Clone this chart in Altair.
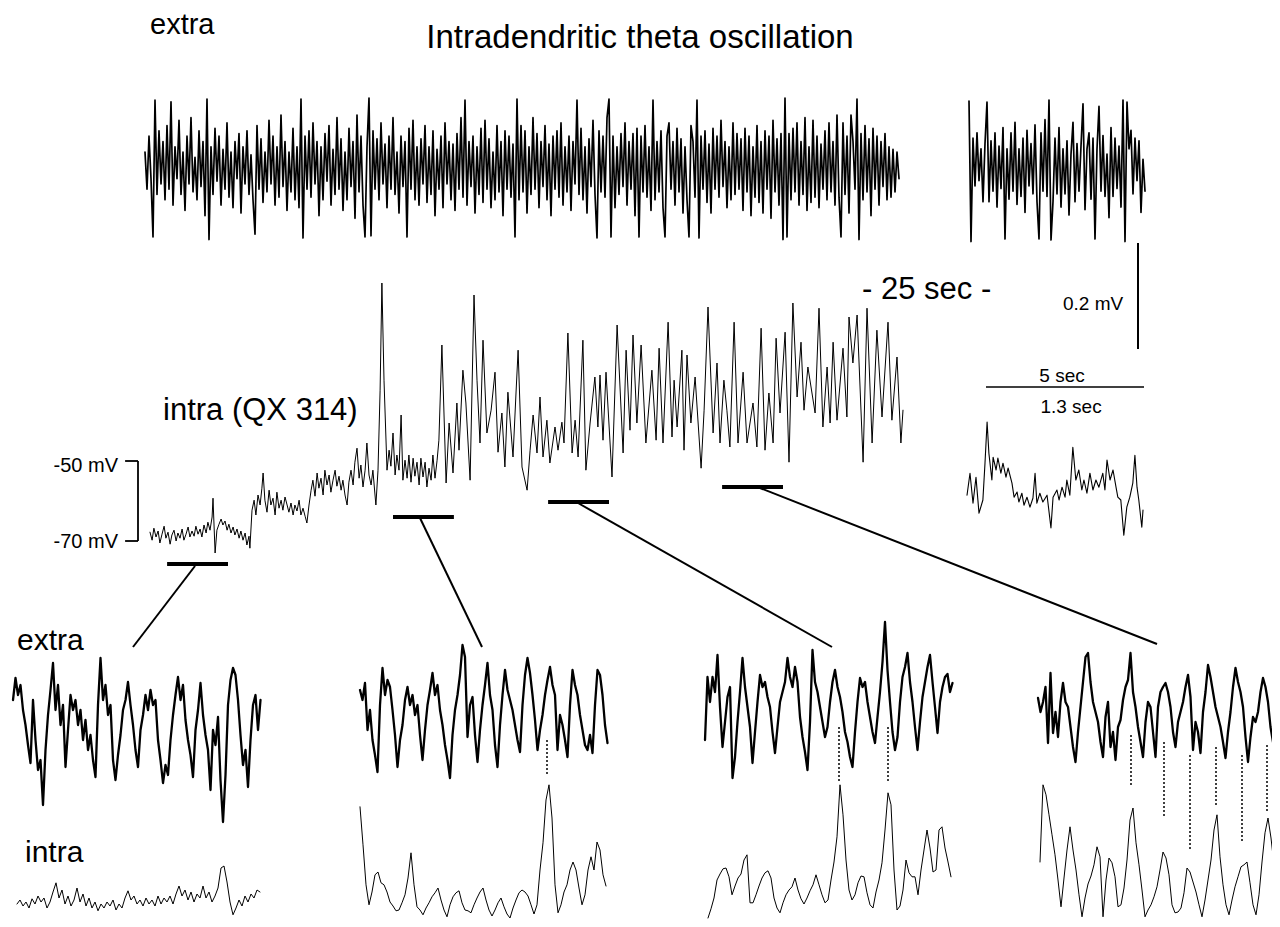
import altair as alt
import pandas as pd

# ---------------------------------------------------------------- data
# Top extracellular record (uV), evenly sampled across the 25-s sweep
extra_top = [
    30, -40, 60, -20, -130, 128, -50, 70, -30, 50, -60, 80, -40, 125, -70, 40, -20, 90, -50, 30,
    -80, 60, -30, 95, -45, 20, -60, 70, -35, 50, -90, 130, -135, 40, -50, 75, -25, 60, -70, 35,
    -40, 85, -55, 30, -75, 50, -20, 65, -85, 40, -30, 70, -50, 25, -60, -125, 80, -40, 55, -65,
    30, -45, 90, -30, 60, -70, 40, -55, 100, -35, 50, -80, 30, -45, 75, -60, 40, -75, 130, -132,
    60, -40, 70, -55, 85, -30, 50, -90, 40, -60, 65, -25, 80, -70, 35, -50, 95, -40, 55, -80,
    30, -60, 75, -35, 50, -95, 100, -45, 60, -70, -130, 40, 132, -128, 70, -40, 55, -60, 85, -30,
    45, -75, 60, -40, 95, -50, 30, -85, 60, -35, 50, -130, 75, -40, 90, -60, 40, -70, 55, -30,
    80, -65, 40, -50, 70, -90, 35, -40, 60, -75, 85, -30, 50, -60, 45, -80, 65, -40, 95, -55,
    128, -70, 50, -35, 60, -85, 40, -50, 75, -65, 90, -40, 55, -75, 30, -60, 80, -45, 50, -90,
    70, -40, 60, -55, 45, -130, 130, -60, 80, -45, 70, -85, 40, -50, 95, -40, 65, -75, 50, -35,
    80, -60, 45, -90, 60, -40, 70, -55, 85, -70, 40, -45, 60, -80, 50, -30, 128, -50, 75, -60,
    40, -85, 55, -35, 90, -50, -132, 70, -45, 60, -55, 95, 130, -130, 60, -75, 40, -50, 65, -35,
    85, -70, 50, -40, 65, -90, 75, -130, 60, -45, 80, -55, 40, -80, 128, -60, 50, -45, 70, -75,
    -130, 60, 85, -40, 50, -70, 75, -45, 55, -85, 40, -60, -130, 80, 50, -55, 128, -132, 60, -40,
    70, -65, 45, -85, 75, -40, 60, -55, 90, -35, 50, -75, 40, -60, 85, -50, 65, -40, 55, -80,
    75, -45, 60, -90, 40, -55, 80, -65, 50, -85, 70, -40, 60, -95, 90, -45, 55, -70, 65, -135,
    132, -130, 65, -60, 75, -45, 85, -70, 50, -50, 95, -80, 40, -65, 90, -55, 60, -75, 45, -40,
    70, -60, 85, -45, 50, -70, 100, -55, -130, 85, -50, 60, -85, 100, 50, -40, 130, -135, 65, -60,
    80, -45, 55, -90, 75, -40, 60, -70, 50, -35, 65, -60, 40, -55, 35, -45, 30, -20,
]

# Right-hand extracellular sample (uV)
extra_right = [
    130, -135, 60, -30, 70, -20, 40, -60, 50, 128, -60, 55, -40, 70, -70, 45, -35, 80, -130, 40,
    -55, 70, -40, 90, -65, 40, -50, 60, -80, 75, -30, 50, -45, 85, -60, -130, 70, -40, 95, -50,
    132, -132, -60, 60, -45, 80, -70, 40, -45, 55, -85, 30, 90, -60, 50, -40, 45, 125, -75, 40,
    70, -55, 60, -130, 40, 120, -40, 65, -50, 30, -90, 80, -50, 60, -35, 45, -70, 132, -135, 128,
    40, 75, -45, 60, -20, 55, -80, 20, -40,
]

# Intradendritic record: (time s, membrane potential mV)
intra_main = [
    (0.00, -67.8), (0.07, -69.8), (0.13, -66.8), (0.20, -69.0), (0.27, -67.5),
    (0.33, -70.5), (0.40, -68.3), (0.47, -66.3), (0.53, -69.3), (0.60, -67.8),
    (0.67, -70.8), (0.73, -68.5), (0.80, -67.3), (0.87, -70.0), (0.93, -68.0),
    (1.00, -69.3), (1.07, -67.0), (1.13, -69.8), (1.20, -68.3), (1.27, -66.5),
    (1.33, -69.0), (1.40, -67.5), (1.47, -68.8), (1.53, -66.3), (1.60, -68.3),
    (1.67, -67.0), (1.73, -69.0), (1.80, -66.0), (1.87, -68.0), (1.93, -65.3),
    (2.00, -67.3), (2.07, -64.0), (2.10, -59.3), (2.17, -73.0), (2.23, -67.3),
    (2.30, -65.8), (2.37, -64.5), (2.43, -66.0), (2.50, -65.0), (2.57, -67.3),
    (2.63, -65.8), (2.70, -68.0), (2.77, -66.5), (2.83, -68.5), (2.90, -67.0),
    (2.97, -69.3), (3.03, -67.5), (3.10, -69.8), (3.17, -68.0), (3.23, -71.0),
    (3.30, -68.8), (3.33, -71.8),
    (3.40, -62.3), (3.47, -59.8), (3.53, -63.5), (3.60, -58.5), (3.67, -61.0),
    (3.73, -56.8), (3.77, -53.0), (3.83, -59.8), (3.90, -62.8), (3.97, -57.3),
    (4.03, -61.0), (4.10, -59.3), (4.17, -63.5), (4.23, -57.8), (4.30, -61.8),
    (4.37, -59.8), (4.43, -62.3), (4.50, -59.0), (4.57, -61.0), (4.63, -62.8),
    (4.70, -60.5), (4.77, -63.5), (4.83, -61.0), (4.90, -62.5), (4.97, -59.8),
    (5.03, -63.5), (5.10, -61.8), (5.17, -63.8), (5.23, -65.5), (5.30, -61.0),
    (5.37, -57.3), (5.43, -54.8), (5.50, -58.8), (5.57, -53.0), (5.63, -56.8),
    (5.70, -54.3), (5.77, -58.5), (5.83, -52.3), (5.90, -56.0), (5.97, -53.5),
    (6.03, -57.8), (6.10, -54.8), (6.17, -52.3), (6.23, -56.3), (6.30, -53.8),
    (6.37, -57.3), (6.43, -54.8), (6.50, -58.5), (6.57, -61.0), (6.63, -55.3),
    (6.70, -52.3), (6.77, -56.0), (6.83, -50.3), (6.90, -46.8), (6.97, -54.3),
    (7.03, -51.0), (7.10, -56.5), (7.17, -52.3), (7.23, -45.5), (7.30, -53.5),
    (7.37, -56.0), (7.43, -52.3), (7.50, -58.5), (7.53, -61.0), (7.60, -52.3),
    (7.67, -32.3), (7.73, -5.5), (7.80, -29.8), (7.90, -52.3), (7.97, -47.3),
    (8.03, -51.3), (8.10, -43.0), (8.17, -53.5), (8.23, -48.5), (8.30, -52.3),
    (8.37, -38.5), (8.43, -54.8), (8.50, -49.8), (8.57, -54.3), (8.63, -48.5),
    (8.70, -55.3), (8.77, -49.3), (8.83, -53.8), (8.90, -50.3), (8.97, -56.0),
    (9.03, -49.3), (9.10, -54.0), (9.17, -50.3), (9.23, -56.5), (9.30, -51.8),
    (9.37, -54.8), (9.43, -48.5), (9.50, -54.3), (9.57, -49.8), (9.63, -44.8),
    (9.73, -21.0), (9.87, -55.5), (9.97, -40.5), (10.10, -53.0), (10.23, -35.5),
    (10.30, -47.3), (10.43, -27.3), (10.53, -35.5), (10.67, -54.8), (10.80, -8.5),
    (10.90, -29.8), (11.00, -45.5), (11.10, -19.8), (11.23, -43.0), (11.37, -37.3),
    (11.50, -27.8), (11.60, -47.8), (11.73, -38.0), (11.83, -51.5), (11.93, -32.8),
    (12.10, -49.0), (12.20, -33.0), (12.27, -22.3), (12.40, -51.5), (12.57, -57.3),
    (12.67, -47.3), (12.77, -38.5), (12.90, -48.0), (13.00, -34.0), (13.10, -49.0),
    (13.23, -39.8), (13.33, -50.5), (13.50, -41.5), (13.60, -47.3), (13.73, -40.3),
    (13.80, -45.5), (13.93, -18.0), (14.07, -48.0), (14.17, -39.8), (14.27, -49.0),
    (14.43, -19.8), (14.53, -52.3), (14.67, -40.5), (14.83, -29.0), (14.93, -41.5),
    (15.00, -28.5), (15.10, -44.8), (15.20, -27.8), (15.40, -54.0), (15.57, -16.0),
    (15.77, -48.0), (15.87, -22.3), (16.00, -42.3), (16.10, -18.5), (16.23, -40.5),
    (16.37, -21.0), (16.53, -45.5), (16.73, -27.3), (16.87, -44.8), (16.97, -21.8),
    (17.10, -45.5), (17.27, -15.3), (17.40, -44.0), (17.47, -29.8), (17.57, -41.5),
    (17.73, -22.3), (17.80, -47.3), (17.90, -23.5), (18.03, -40.5), (18.17, -29.0),
    (18.37, -51.8), (18.47, -37.3), (18.60, -11.5), (18.77, -43.0), (18.90, -25.5),
    (19.00, -45.5), (19.13, -29.8), (19.23, -37.3), (19.33, -46.5), (19.47, -15.3),
    (19.60, -45.5), (19.77, -27.8), (19.90, -45.5), (20.10, -35.5), (20.23, -46.5),
    (20.37, -16.8), (20.50, -47.3), (20.63, -33.0), (20.77, -45.5), (20.87, -19.3),
    (21.00, -38.0), (21.17, -17.8), (21.30, -50.3), (21.43, -10.5), (21.57, -34.0),
    (21.70, -20.3), (21.80, -37.3), (21.93, -26.5), (22.17, -38.0), (22.30, -11.8),
    (22.43, -41.5), (22.57, -26.5), (22.67, -40.5), (22.77, -20.3), (22.90, -39.8),
    (23.10, -21.8), (23.23, -39.0), (23.30, -14.0), (23.43, -25.5), (23.57, -13.5),
    (23.77, -50.3), (23.90, -11.8), (24.07, -45.5), (24.23, -17.3), (24.40, -39.0),
    (24.60, -15.3), (24.73, -39.8), (24.90, -24.0), (25.03, -45.5), (25.10, -37.3),
]

# Right-hand intracellular sample: (time s, mV)
intra_right = [
    (0.00, -58.8), (0.10, -53.3), (0.20, -60.8), (0.30, -54.3), (0.40, -63.3),
    (0.53, -60.0), (0.60, -50.8), (0.67, -40.5), (0.73, -48.3), (0.83, -55.0),
    (0.87, -49.3), (0.97, -52.5), (1.03, -49.5), (1.13, -53.3), (1.20, -50.8),
    (1.30, -54.3), (1.37, -52.0), (1.50, -55.8), (1.57, -59.3), (1.67, -58.0),
    (1.73, -60.5), (1.83, -58.3), (1.90, -61.3), (2.00, -59.3), (2.10, -61.8),
    (2.20, -59.5), (2.27, -53.3), (2.33, -60.8), (2.43, -58.3), (2.53, -60.5),
    (2.67, -58.8), (2.80, -67.0), (2.87, -59.3), (3.00, -57.5), (3.07, -60.0),
    (3.17, -56.8), (3.27, -59.3), (3.33, -55.0), (3.43, -58.8), (3.53, -46.8),
    (3.63, -55.0), (3.73, -52.5), (3.83, -57.5), (3.90, -55.0), (4.00, -58.3),
    (4.10, -53.3), (4.20, -57.5), (4.30, -55.0), (4.40, -56.8), (4.53, -53.3),
    (4.60, -57.5), (4.67, -50.0), (4.77, -55.0), (4.87, -52.5), (4.97, -56.8),
    (5.03, -59.3), (5.13, -60.0), (5.23, -68.8), (5.33, -61.8), (5.43, -59.3),
    (5.53, -55.8), (5.60, -48.8), (5.67, -56.8), (5.73, -60.0), (5.83, -66.8),
    (5.87, -62.5),
]

# Expanded 2-s windows: extracellular (uV) and intradendritic (mV above trough)
win_extra_1 = [
    40, 84, 50, 70, 20, -10, -50, -86, 40, -40,
    -100, -80, -170, -60, 10, 60, 114, 20, 70, -10,
    30, -94, -20, 50, 20, 40, -10, 20, -40, 0,
    -60, -30, -80, -114, 30, 124, 40, 70, 10, 30,
    -80, -120, -70, -30, 20, 40, 76, 30, -10, -60,
    -94, -20, 10, 50, 20, 60, 30, 40, -40, -80,
    -126, -90, -110, -40, 10, 50, 86, 40, 70, 0,
    -40, -70, -114, -20, 20, 74, 10, -30, -60, -140,
    -20, -50, 6, -120, -204, -110, 30, 80, 104, 90,
    40, -30, -90, -60, -134, -40, 30, 50, -20, 40,
]
win_intra_1 = [
    3.5, 4.5, 3.0, 4.0, 2.5, 4.8, 3.5, 5.5, 4.0, 5.0,
    2.5, 4.0, 6.5, 8.8, 5.0, 7.0, 3.5, 5.5, 3.0, 4.5,
    7.5, 4.0, 6.0, 3.0, 5.0, 2.5, 4.0, 1.8, 3.5, 2.5,
    4.0, 3.0, 4.5, 2.0, 3.5, 2.5, 5.0, 6.8, 4.5, 5.5,
    3.5, 4.5, 3.0, 5.0, 3.5, 4.5, 3.0, 5.5, 3.5, 5.0,
    4.0, 5.5, 3.5, 6.0, 8.0, 5.5, 7.0, 4.5, 6.5, 4.0,
    6.0, 5.0, 8.0, 5.0, 6.5, 4.0, 5.5, 7.5, 12.5, 13.0,
    9.0, 4.0, 0.8, 2.5, 4.5, 3.0, 5.5, 4.0, 6.0, 5.0,
    7.0, 6.5,
]
win_extra_2 = [
    50, 30, 64, -30, 10, -50, -80, -114, 20, 94,
    40, 70, 56, 10, -40, -104, -50, -20, 30, 56,
    20, 40, 0, 20, -40, -90, -30, 20, 50, 84,
    40, 60, 10, -20, -60, -90, -126, -40, 10, 40,
    80, 140, 116, -44, 20, 36, -40, -94, -30, 20,
    60, 104, 40, 10, -60, -104, -20, 40, 90, 50,
    30, 10, -20, -50, -74, 20, 80, 114, 84, 40,
    -10, -70, -30, 0, 40, 70, 96, 60, 40, -70,
    0, -20, -50, -84, 20, 90, 60, 40, 0, -30,
    -60, -70, -40, -76, 20, 90, 80, 40, -20, -56,
]
win_intra_2 = [
    27.8, 18.3, 8.3, 3.3, 6.5, 10.8, 11.5, 8.8, 8.3, 6.5,
    4.0, 3.0, 1.8, 2.0, 3.8, 5.8, 10.0, 16.3, 8.3, 2.8,
    2.0, 0.8, 2.5, 3.8, 5.3, 6.3, 7.5, 4.5, 2.0, 0.3,
    3.3, 5.3, 6.3, 6.8, 3.8, 2.0, 1.8, 1.3, 3.3, 5.0,
    6.5, 7.5, 4.5, 2.0, 0.5, 2.0, 3.8, 5.0, 2.8, 1.0,
    0.0, 2.5, 4.5, 6.3, 7.0, 6.5, 5.5, 3.3, 1.0, 3.3,
    12.0, 18.8, 29.5, 33.3, 25.0, 8.3, 1.3, 3.3, 6.5, 8.3,
    12.0, 14.0, 12.0, 7.5, 3.3, 5.8, 12.0, 15.3, 12.0, 19.0,
    17.0, 10.8, 8.0,
]
win_extra_3 = [
    -56, 70, 20, 70, 40, 114, 10, -70, -20, 30,
    50, -132, -90, -20, 40, 108, 50, 10, -30, -102,
    -40, 20, 74, 50, 60, 30, 10, -40, -82, -30,
    20, 40, 60, 108, 70, 50, 90, 60, -10, -50,
    -80, -116, -20, 124, 60, 40, 10, -20, -50, -30,
    20, 60, 84, 50, 30, 0, -40, -60, -90, -110,
    -40, 20, 68, 50, 60, 20, -10, -40, -62, -10,
    40, 100, 180, 84, 20, -40, -76, -50, 20, 70,
    90, 118, 60, 20, -30, -76, -20, 30, 60, 90,
    114, 60, 10, -42, 20, 50, 70, 76, 40, 58,
]
win_intra_3 = [
    0.0, 2.3, 5.0, 9.5, 11.0, 12.3, 12.5, 10.3, 5.8, 8.0,
    10.0, 11.0, 14.5, 15.8, 3.8, 3.8, 5.8, 8.0, 10.0, 11.3,
    11.8, 10.0, 5.0, 2.5, 1.3, 3.8, 5.8, 7.0, 7.8, 10.0,
    7.0, 4.8, 3.5, 5.0, 6.8, 8.3, 10.8, 8.3, 5.8, 3.8,
    4.5, 9.5, 14.0, 20.3, 33.3, 25.8, 14.5, 7.0, 4.5, 5.8,
    8.8, 10.5, 10.3, 6.3, 3.3, 2.5, 6.5, 9.5, 13.8, 22.0,
    31.3, 28.3, 12.0, 2.0, 3.0, 7.0, 14.5, 11.3, 10.3, 10.3,
    5.8, 12.0, 17.0, 22.0, 17.5, 11.5, 12.0, 22.0, 22.8, 17.5,
    14.0, 10.3,
]
win_extra_4 = [
    28, 0, 20, 50, -62, 78, -42, 0, -50, 20,
    58, 20, 10, -30, -70, -100, -40, 10, 60, 110,
    118, 60, 20, 0, -20, -60, -90, -10, 20, -70,
    -40, -96, -30, -16, 24, 50, 64, 118, 40, 10,
    -30, -60, -90, -20, 20, 10, -40, -90, 10, 40,
    50, 58, 40, 10, -40, -70, -20, 0, 20, 50,
    74, 30, -76, -20, -40, -82, 0, 40, 94, 70,
    40, 10, -10, -30, -60, -92, -40, 0, 50, 88,
    60, 40, 10, -50, -100, -50, -10, -20, 0, 40,
    68, 50, 20, -30, -60, -82, 38,
]
win_intra_4 = [
    14.0, 33.3, 30.8, 25.8, 20.8, 15.8, 9.5, 2.8, 10.0, 17.0,
    22.8, 17.0, 12.0, 5.8, 0.3, 5.0, 8.5, 10.5, 13.3, 17.8,
    15.3, 0.3, 9.5, 15.0, 13.8, 10.3, 2.8, 3.3, 7.5, 14.5,
    24.5, 27.5, 18.8, 13.3, 7.0, 0.3, 2.0, 3.3, 5.3, 7.8,
    12.0, 16.5, 15.0, 10.8, 3.3, 1.3, 1.5, 2.5, 6.3, 12.5,
    11.5, 9.0, 6.5, 3.3, 0.3, 4.5, 9.5, 14.5, 22.0, 25.8,
    15.3, 8.3, 3.3, 0.8, 4.5, 7.8, 10.3, 12.8, 13.3, 14.0,
    8.8, 3.3, 0.8, 5.8, 14.0, 21.3, 25.0, 20.0, 13.3, 7.5,
]

# Expanded windows on the intradendritic record (start s, level of marker mV)
win_start = [0.57, 8.10, 13.27, 19.07]
win_len = 2.03
win_level = [-75.75, -64.0, -60.25, -56.5]
mv_bracket = [-70, -50]

# ---------------------------------------------------------------- layout (page pixels)
M = 8
W, H = 1264, 911
FONT = "Liberation Sans"


def px(v):
    return v - M


def sc(domain, a, b):
    return alt.Scale(domain=list(domain), range=[px(a), px(b)], nice=False, zero=False)


def sampled(values):
    return pd.DataFrame({"t": list(range(len(values))), "v": values})


def paired(pairs):
    return pd.DataFrame(pairs, columns=["t", "v"])


def trace(df, xs, ys, sw):
    return alt.Chart(df).mark_line(
        color="black", strokeWidth=sw, strokeJoin="round", strokeCap="round"
    ).encode(
        x=alt.X("t:Q", scale=xs, axis=None),
        y=alt.Y("v:Q", scale=ys, axis=None),
    )


def extra_y(center, gain):
    return sc([-200, 200], center + 200 * gain, center - 200 * gain)


def label(text, x, y, size, align="left"):
    return alt.Chart(pd.DataFrame({"s": [text]})).mark_text(
        align=align, baseline="alphabetic", fontSize=size, font=FONT, color="black"
    ).encode(x=alt.value(px(x)), y=alt.value(px(y)), text="s:N")


layers = []

# top traces
layers.append(trace(sampled(extra_top), sc([0, len(extra_top) - 1], 145, 899), extra_y(168, 0.53), 1.7))
layers.append(trace(sampled(extra_right), sc([0, len(extra_right) - 1], 969, 1145), extra_y(170, 0.53), 1.7))

main_x = sc([0, 25.1], 150, 903)
main_y = sc([-70, -50], 541, 461)
layers.append(trace(paired(intra_main), main_x, main_y, 1.0))
layers.append(trace(paired(intra_right), sc([0, 5.87], 967, 1143), sc([-70, -50], 540, 460), 1.1))

# window markers on the intradendritic record
bars = pd.DataFrame({"t": win_start, "t2": [s + win_len for s in win_start], "v": win_level})
layers.append(alt.Chart(bars).mark_rule(color="black", strokeWidth=4).encode(
    x=alt.X("t:Q", scale=main_x, axis=None), x2="t2:Q",
    y=alt.Y("v:Q", scale=main_y, axis=None)))

# -50 / -70 mV bracket, drawn on the intradendritic scale
bracket = pd.DataFrame({
    "t": [-0.4, -0.83, -0.83], "t2": [-0.4, -0.4, -0.4],
    "v": [mv_bracket[0], mv_bracket[0], mv_bracket[1]],
    "v2": [mv_bracket[1], mv_bracket[0], mv_bracket[1]],
})
layers.append(alt.Chart(bracket).mark_rule(color="black", strokeWidth=1.8).encode(
    x=alt.X("t:Q", scale=main_x, axis=None), x2="t2:Q",
    y=alt.Y("v:Q", scale=main_y, axis=None), y2="v2:Q"))

# expanded windows
panels = [
    (win_extra_1, (13, 260.5), 720, win_intra_1, (17, 260)),
    (win_extra_2, (360, 607.5), 715, win_intra_2, (360, 606)),
    (win_extra_3, (705, 952.5), 712, win_intra_3, (708, 951)),
    (win_extra_4, (1038, 1278), 712, win_intra_4, (1040, 1277)),
]
for ex, exr, exc, it, itr in panels:
    layers.append(trace(sampled(ex), sc([0, len(ex) - 1], *exr), extra_y(exc, 0.5), 2.3))
    layers.append(trace(sampled(it), sc([0, len(it) - 1], *itr), sc([0, 34], 918, 782), 1.0))

# page-frame annotations: connectors, scale bars, dotted alignment lines
pix_x = sc([M, W + M], M, W + M)
pix_y = sc([M, H + M], M, H + M)
connectors = pd.DataFrame(
    [(195, 566, 133, 647), (420, 518, 482, 647), (578, 503, 832, 647), (760, 488, 1157, 644),
     (1138, 243, 1138, 349)],
    columns=["x", "y", "x2", "y2"])
layers.append(alt.Chart(connectors).mark_rule(color="black", strokeWidth=2).encode(
    x=alt.X("x:Q", scale=pix_x, axis=None), y=alt.Y("y:Q", scale=pix_y, axis=None),
    x2="x2:Q", y2="y2:Q"))
hbar = pd.DataFrame([(986, 387, 1144, 387)], columns=["x", "y", "x2", "y2"])
layers.append(alt.Chart(hbar).mark_rule(color="black", strokeWidth=1.5).encode(
    x=alt.X("x:Q", scale=pix_x, axis=None), y=alt.Y("y:Q", scale=pix_y, axis=None),
    x2="x2:Q", y2="y2:Q"))
dots = pd.DataFrame(
    [(547, 740, 775), (839, 727, 782), (888, 727, 783), (1131, 735, 787), (1164, 742, 818),
     (1190, 755, 850), (1216, 747, 807), (1242, 755, 843), (1267, 745, 813)],
    columns=["x", "y", "y2"])
layers.append(alt.Chart(dots).mark_rule(color="black", strokeWidth=1.5, strokeDash=[2, 2]).encode(
    x=alt.X("x:Q", scale=pix_x, axis=None), y=alt.Y("y:Q", scale=pix_y, axis=None), y2="y2:Q"))

# texts
layers += [
    label("Intradendritic theta oscillation", 640, 48, 33, "center"),
    label("extra", 150, 34, 29),
    label("intra (QX 314)", 163, 420, 31),
    label("-50 mV", 118, 472, 20, "right"),
    label("-70 mV", 118, 548, 20, "right"),
    label("- 25 sec -", 862, 299, 31),
    label("0.2 mV", 1063, 310, 19),
    label("5 sec", 1062, 382, 19, "center"),
    label("1.3 sec", 1071, 413, 19, "center"),
    label("extra", 17, 650, 30),
    label("intra", 25, 862, 30),
]

chart = alt.layer(*layers).resolve_scale(x="independent", y="independent").properties(
    width=W, height=H, padding=0, background="white",
    autosize=alt.AutoSizeParams(type="none"),
).configure_view(stroke=None)

chart.save("out.html", embed_options={"renderer": "svg", "actions": False})
